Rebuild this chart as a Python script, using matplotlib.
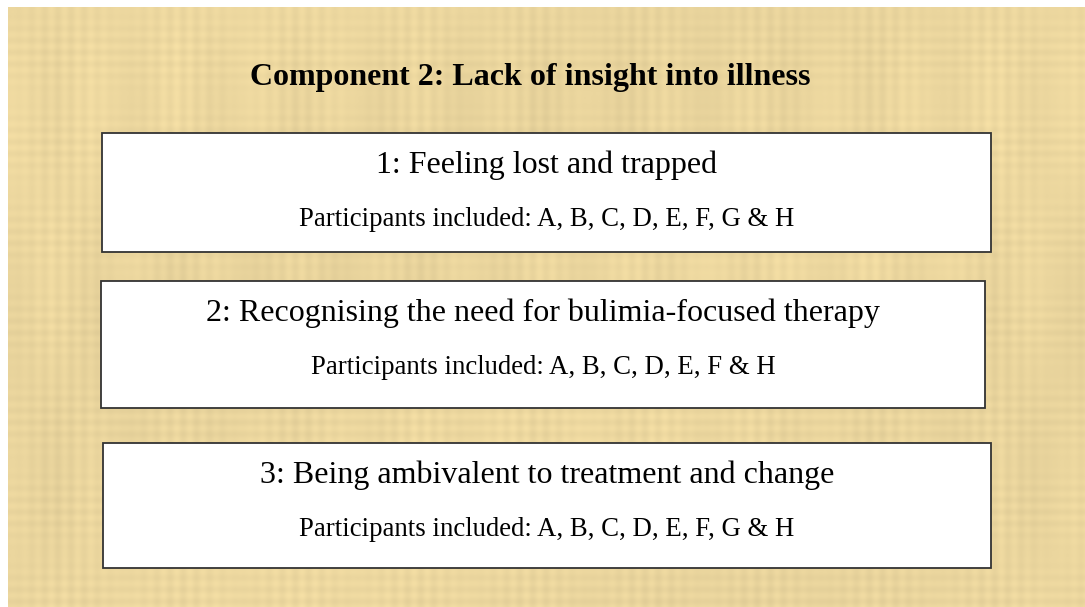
import numpy as np
import matplotlib
matplotlib.use("Agg")
import matplotlib.pyplot as plt
from matplotlib.patches import Rectangle

# Content
title = "Component 2: Lack of insight into illness"
themes = [
    "1: Feeling lost and trapped",
    "2: Recognising the need for bulimia-focused therapy",
    "3: Being ambivalent to treatment and change",
]
participants = [
    "A, B, C, D, E, F, G & H",
    "A, B, C, D, E, F & H",
    "A, B, C, D, E, F, G & H",
]

# Layout (pixel coordinates, y downwards)
W, H = 1085, 607
box_x = [102, 101, 103]
box_w = [889, 884, 888]
box_y = [133, 281, 443]
box_h = [119, 127, 125]

plt.rcParams['font.family'] = ['Liberation Serif', 'DejaVu Serif']

fig = plt.figure(figsize=(W / 100, H / 100), dpi=100)
ax = fig.add_axes([0, 0, 1, 1])
ax.axis('off')

# papyrus-like background: base colour with fine fibre-like banding
yy, xx = np.mgrid[0:H - 7, 0:W - 8]
band = (0.018 * np.sin(xx / 2.1) * np.sin(xx / 37.0)
        + 0.015 * np.sin(yy / 1.9) * np.sin(yy / 29.0)
        + 0.012 * np.sin(xx / 13.0 + 1.3) * np.sin(yy / 61.0)
        + 0.010 * np.sin(xx / 151.0 + yy / 97.0))
base = np.array([235, 214, 158]) / 255.0
tex = np.clip(base[None, None, :] * (1 + band[..., None]), 0, 1)
ax.imshow(tex, extent=(8, W, H, 7), interpolation='bilinear', zorder=0)
ax.set_xlim(0, W)
ax.set_ylim(H, 0)

ax.text(530, 78, title, ha='center', va='center', fontsize=23,
        fontweight='bold', color='black', zorder=3)

for i in range(len(themes)):
    ax.add_patch(Rectangle((box_x[i], box_y[i]), box_w[i], box_h[i],
                           facecolor='white', edgecolor='#333333',
                           linewidth=1.3, zorder=2))
    cx = box_x[i] + box_w[i] / 2
    ax.text(cx, box_y[i] + 32, themes[i], ha='center', va='center',
            fontsize=23, color='black', zorder=3)
    ax.text(cx, box_y[i] + 87, "Participants included: " + participants[i],
            ha='center', va='center', fontsize=19.3, color='black', zorder=3)

fig.savefig("out.png", dpi=100, facecolor='white')
